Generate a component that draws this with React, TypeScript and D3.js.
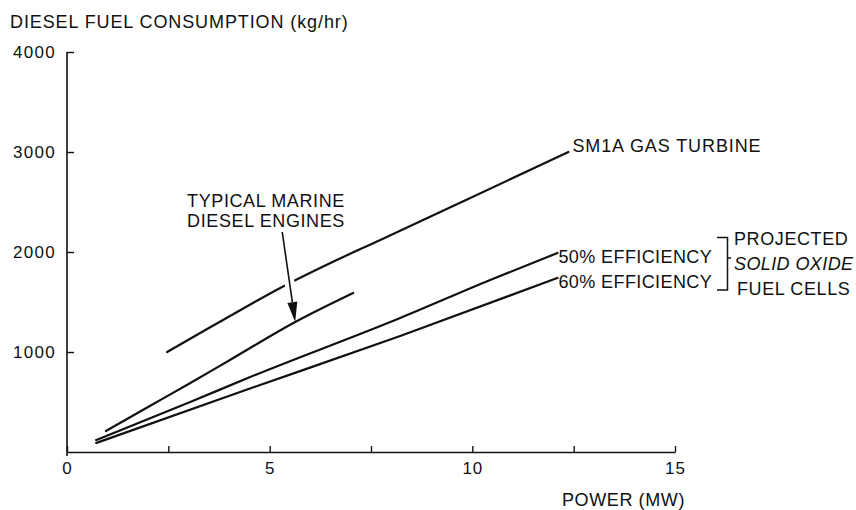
import * as d3 from 'd3';
import { useEffect, useRef } from 'react';

// power in MW, consumption in kg/hr
const turbine: [number, number][] = [
	[2.47, 1000], [3.5, 1240], [4.5, 1470], [5.26, 1640], [6.5, 1890], [7.73, 2120], [9.95, 2540], [12.37, 3000],
];
const marineDiesel: [number, number][] = [
	[0.96, 210], [2, 450], [3, 680], [4.02, 920], [5.63, 1300], [7.06, 1590],
];
const eff50: [number, number][] = [
	[0.72, 120], [3.04, 500], [4.52, 750], [8.22, 1340], [10.44, 1720], [12.1, 1990],
];
const eff60: [number, number][] = [
	[0.72, 90], [4.27, 600], [8.22, 1160], [12.1, 1740],
];

const xTicks = [0, 2.5, 5, 7.5, 10, 12.5, 15];
const yTicks = [1000, 2000, 3000, 4000];

const FONT = '"Liberation Sans", Arial, Helvetica, sans-serif';

export default function App() {
	const ref = useRef<SVGSVGElement>(null);

	useEffect(() => {
		const svg = d3.select(ref.current);
		svg.selectAll('*').remove();

		const x = d3.scaleLinear().domain([0, 15]).range([67, 675]);
		const y = d3.scaleLinear().domain([0, 4000]).range([452, 52]);

		const g = svg.append('g').style('font-family', FONT).attr('fill', '#111');

		// оси
		const yAxis = d3.axisLeft(y).tickValues(yTicks).tickSizeInner(-7).tickSizeOuter(0).tickPadding(11).tickFormat((d) => String(d));
		const ya = g.append('g').attr('transform', `translate(${x(0)},0)`).call(yAxis);
		ya.select('.domain').attr('stroke', '#111').attr('stroke-width', 1.6).attr('d', `M0,${y(4000)}V${y(0) + 4}`);
		ya.selectAll('.tick line').attr('stroke', '#111').attr('stroke-width', 1.4);
		ya.selectAll('.tick text').attr('font-size', 17).attr('letter-spacing', 1.3).attr('fill', '#111').attr('font-family', FONT);

		const xAxis = d3.axisBottom(x).tickValues(xTicks).tickSizeInner(-6).tickSizeOuter(0).tickPadding(10)
			.tickFormat((d) => ((d as number) % 5 === 0 ? String(d) : ''));
		const xa = g.append('g').attr('transform', `translate(0,${y(0)})`).call(xAxis);
		xa.select('.domain').attr('stroke', '#111').attr('stroke-width', 1.6);
		xa.selectAll('.tick line').attr('stroke', '#111').attr('stroke-width', 1.4);
		xa.selectAll('.tick text').attr('font-size', 17).attr('letter-spacing', 1).attr('fill', '#111').attr('font-family', FONT);

		// кривые
		const lineGen = d3.line<[number, number]>().x((d) => x(d[0])).y((d) => y(d[1])).curve(d3.curveMonotoneX);
		[turbine, marineDiesel, eff50, eff60].forEach((s) => {
			g.append('path').attr('d', lineGen(s)).attr('fill', 'none').attr('stroke', '#111').attr('stroke-width', 2.2).attr('stroke-linecap', 'round');
		});

		// стрелка к дизелям
		const a0: [number, number] = [x(5.31), y(2200)];
		const a1: [number, number] = [x(5.63), y(1300)];
		const len = Math.hypot(a1[0] - a0[0], a1[1] - a0[1]);
		const ux = (a1[0] - a0[0]) / len, uy = (a1[1] - a0[1]) / len;
		const head = 20, hw = 5;
		const hb: [number, number] = [a1[0] - ux * head, a1[1] - uy * head];
		// белый разрыв на линии турбины
		g.append('line').attr('x1', a0[0] + ux * 45).attr('y1', a0[1] + uy * 45).attr('x2', a0[0] + ux * 65).attr('y2', a0[1] + uy * 65)
			.attr('stroke', '#fff').attr('stroke-width', 10);
		g.append('line').attr('x1', a0[0]).attr('y1', a0[1]).attr('x2', hb[0]).attr('y2', hb[1]).attr('stroke', '#111').attr('stroke-width', 1.6);
		g.append('path')
			.attr('d', `M${a1[0]},${a1[1]}L${hb[0] - uy * hw},${hb[1] + ux * hw}L${hb[0] + uy * hw},${hb[1] - ux * hw}Z`)
			.attr('fill', '#111');

		// подписи
		const txt = (t: string, tx: number, ty: number, opts: { anchor?: string; size?: number; ls?: number; italic?: boolean } = {}) =>
			g.append('text').attr('x', tx).attr('y', ty).text(t)
				.attr('font-size', opts.size ?? 18).attr('letter-spacing', opts.ls ?? 0.6)
				.attr('text-anchor', opts.anchor ?? 'start').attr('font-style', opts.italic ? 'italic' : 'normal');

		txt('DIESEL FUEL CONSUMPTION (kg/hr)', 10, 28, { ls: 0.9 });
		txt('POWER (MW)', 562, 506, { ls: 0.6 });

		const tEnd = turbine[turbine.length - 1];
		txt('SM1A GAS TURBINE', x(tEnd[0]) + 4, y(tEnd[1]), { ls: 0.9 });
		const e50 = eff50[eff50.length - 1];
		const e60 = eff60[eff60.length - 1];
		txt('50% EFFICIENCY', x(e50[0]) + 1, y(e50[1]) + 10, { ls: 0.4 });
		txt('60% EFFICIENCY', x(e60[0]) + 1, y(e60[1]) + 10, { ls: 0.4 });

		// скобка
		g.append('path').attr('d', 'M717,237.5H727.5V290H717M727.5,258H731').attr('fill', 'none').attr('stroke', '#111').attr('stroke-width', 1.5);
		txt('PROJECTED', 734, 245, { ls: 0.6 });
		txt('SOLID OXIDE', 734, 270, { ls: 0.4, italic: true });
		txt('FUEL CELLS', 737, 295, { ls: 0.6 });

		txt('TYPICAL MARINE', 266, 207, { anchor: 'middle', ls: 0.6 });
		txt('DIESEL ENGINES', 266, 227, { anchor: 'middle', ls: 0.6 });
	}, []);

	return (
		<svg
			ref={ref}
			width={856}
			height={510}
			style={{ position: 'absolute', left: 0, top: 0, background: '#fff' }}
		></svg>
	);
}
